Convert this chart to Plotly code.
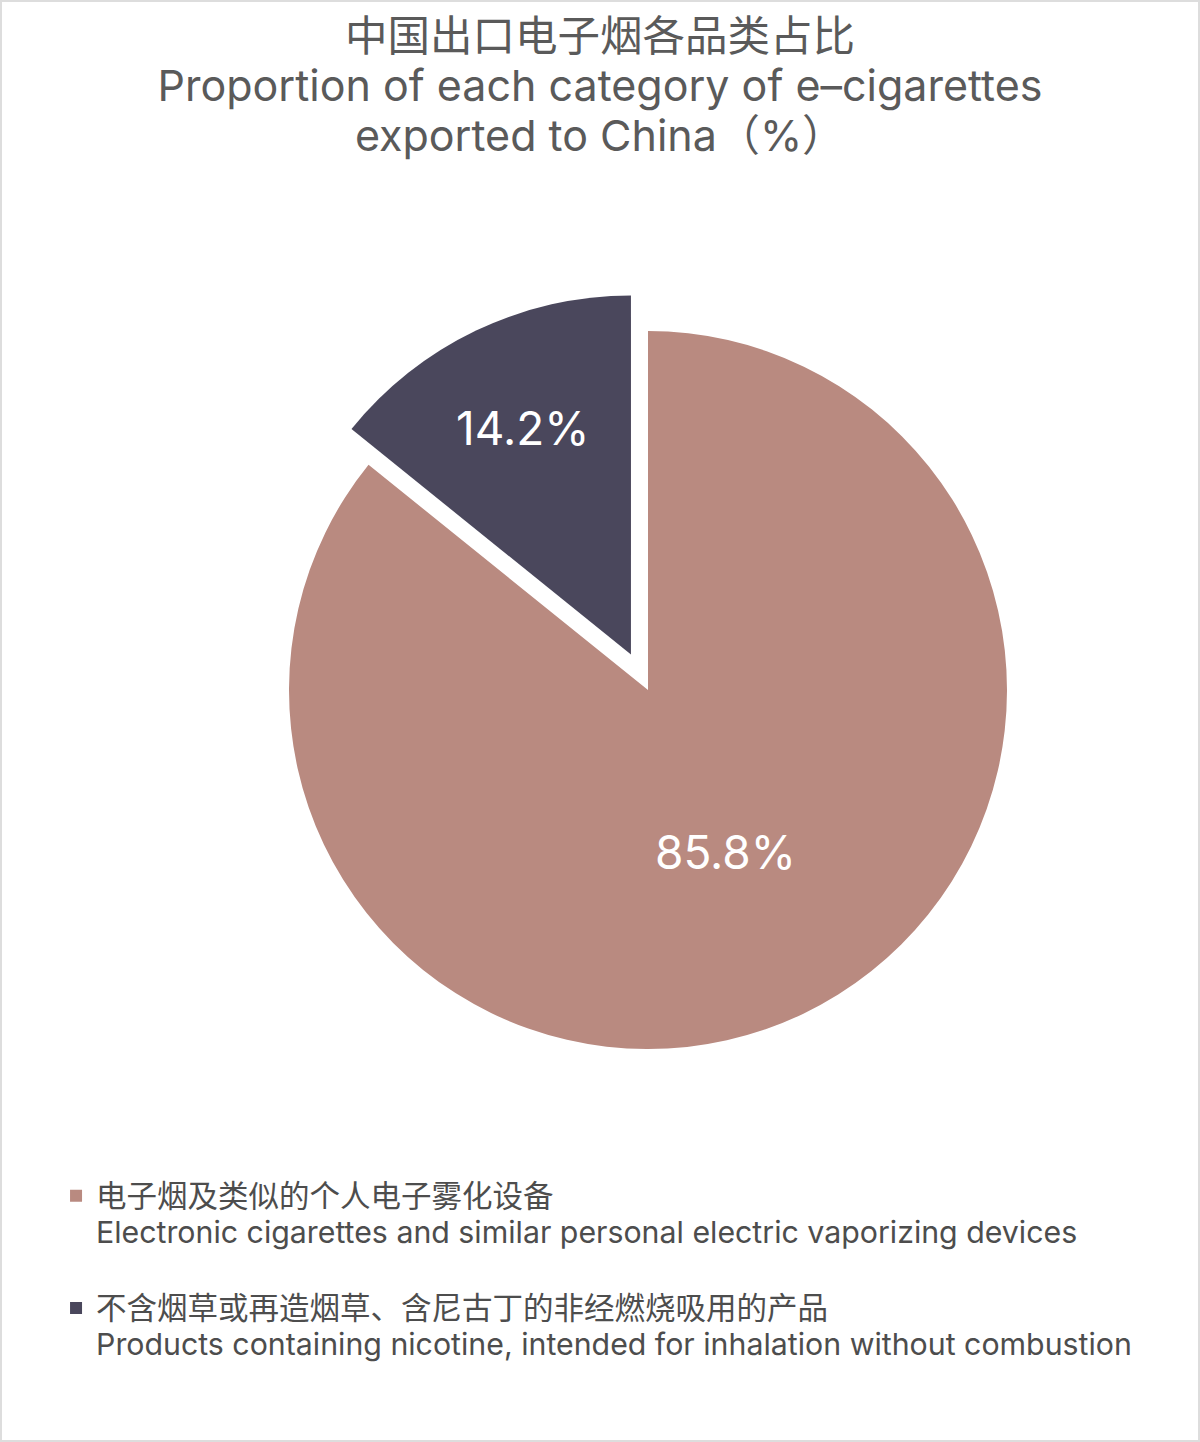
import plotly.graph_objects as go

labelsCn = ["电子烟及类似的个人电子雾化设备", "不含烟草或再造烟草、含尼古丁的非经燃烧吸用的产品"]
labelsEn = [
    "Electronic cigarettes and similar personal electric vaporizing devices",
    "Products containing nicotine, intended for inhalation without combustion",
]
values = [85.8, 14.2]
textLabels = ["85.8%", "14.2%"]
colors = ["#b98a80", "#4a475c"]
pulls = [0, 0.11]

fontFamily = "Inter, Noto Sans CJK SC, sans-serif"

# blank first line keeps the legend square beside the Chinese line
legendLabels = [
    f"\u00a0<br><span style='font-size:30.5px'>{cn}</span><br><span style='font-size:30.3px'>{en}</span>"
    for cn, en in zip(labelsCn, labelsEn)
]

titleText = (
    "<span style='font-size:42.5px'>中国出口电子烟各品类占比</span><br>"
    "<span style='font-size:43px'>Proportion of each category of e–cigarettes</span><br>"
    "<span style='font-size:43px'>exported to China（%）</span>"
)

fig = go.Figure(data=[go.Pie(
    labels=legendLabels,
    values=values,
    text=textLabels,
    textinfo="text",
    textposition="inside",
    insidetextorientation="horizontal",
    textfont=dict(size=46, color="white", family=fontFamily),
    marker=dict(colors=colors, line=dict(width=0)),
    pull=pulls,
    sort=False,
    direction="clockwise",
    rotation=0,
    hoverinfo="percent",
    domain=dict(x=[0.2079, 0.8721], y=[0.2451, 0.7978]),
)])

fig.update_layout(
    width=1200,
    height=1442,
    margin=dict(l=0, r=0, t=0, b=0),
    paper_bgcolor="white",
    title=dict(
        text=titleText,
        x=0.5,
        xanchor="center",
        y=0.9646,
        yref="container",
        yanchor="top",
        font=dict(size=38.5, color="#5a5a5a", family=fontFamily),
    ),
    legend=dict(
        x=0.0467,
        xanchor="left",
        y=0.2131,
        yanchor="top",
        font=dict(size=28, color="#4d4d4d", family=fontFamily),
        bgcolor="rgba(0,0,0,0)",
    ),
    showlegend=True,
    shapes=[dict(
        type="rect", xref="paper", yref="paper",
        x0=0, x1=1, y0=0, y1=1,
        line=dict(color="#dddddd", width=4),
    )],
)

fig.write_html(
    "out.html",
    config={"displayModeBar": False},
    post_script="document.body.style.margin='0';",
)
